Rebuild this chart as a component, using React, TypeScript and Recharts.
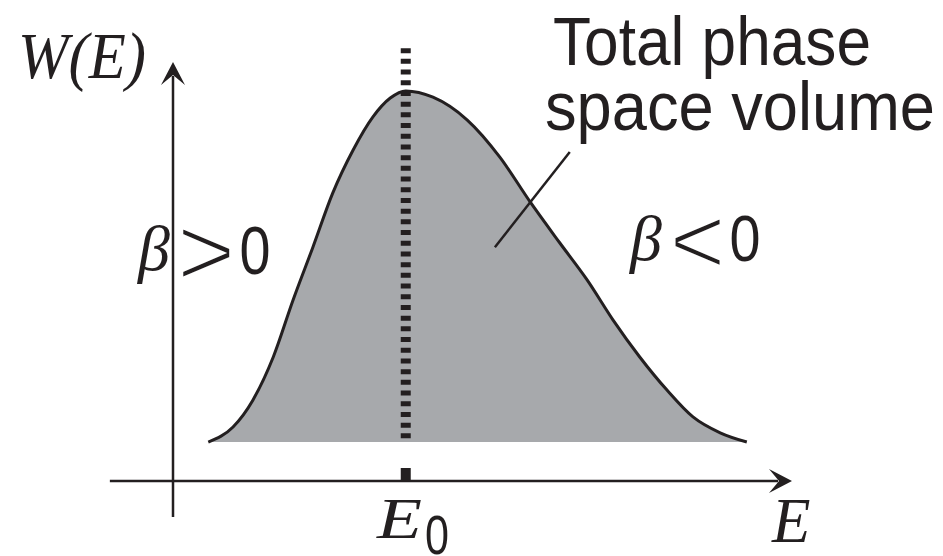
import { AreaChart, Area, XAxis, YAxis, ReferenceLine, Customized } from "recharts";

// energy axis (arbitrary units) and phase space volume W(E)
const energy = [0.57, 0.97, 1.29, 1.62, 1.94, 2.26, 2.58, 2.91, 3.23, 3.51, 3.76, 4.2, 4.75, 5.28, 5.77, 6.25, 6.69, 7.11, 7.54, 7.98, 8.4, 8.84, 9.27];
const volume = [0.93, 1.29, 1.93, 2.96, 4.32, 5.58, 6.87, 7.9, 8.69, 9.14, 9.31, 9.16, 8.62, 7.73, 6.66, 5.68, 4.8, 3.84, 2.96, 2.17, 1.53, 1.15, 0.93];

const E0 = 3.76;
const FLOOR = 0.93;

// axis arrows and guides, in data units
const xAxisFrom = -1.02;
const xAxisTo = 10;
const yAxisFrom = -0.86;
const yAxisTo = 10;
const peakGuideTop = 10.33;
const peakGuideBottom = 0.98;
const pointerFrom = { x: 6.41, y: 7.85 };
const pointerTo = { x: 5.2, y: 5.58 };

const data = energy.map((e, i) => ({ e, w: volume[i] }));

const INK = "#231f20";
const serif = "'Liberation Serif', 'Times New Roman', serif";
const sans = "'Liberation Sans', Arial, sans-serif";

function Arrow(props: any) {
  const { x1, y1, x2, y2 } = props;
  const ang = Math.atan2(y2 - y1, x2 - x1);
  const pt = (back: number, side: number) => {
    const px = x2 - back * Math.cos(ang) - side * Math.sin(ang);
    const py = y2 - back * Math.sin(ang) + side * Math.cos(ang);
    return `${px},${py}`;
  };
  return (
    <g>
      <line x1={x1} y1={y1} x2={x2 - 14 * Math.cos(ang)} y2={y2 - 14 * Math.sin(ang)} stroke={INK} strokeWidth={2.5} />
      <polygon points={`${x2},${y2} ${pt(23, -12)} ${pt(13, 0)} ${pt(23, 12)}`} fill={INK} />
    </g>
  );
}

// one glyph run squeezed or stretched to a given advance width;
// `thin` erodes the outline with a white stroke for the big relation signs
function T({ x, y, size, italic, font, len, thin, children }: any) {
  return (
    <text
      x={x}
      y={y}
      fontFamily={font}
      fontStyle={italic ? "italic" : "normal"}
      fontSize={size}
      textLength={len}
      lengthAdjust={len ? "spacingAndGlyphs" : undefined}
      stroke={thin ? "#fff" : undefined}
      strokeWidth={thin}
    >
      {children}
    </text>
  );
}

function Labels() {
  return (
    <g fill={INK}>
      <T x={18} y={78} size={66} italic font={serif} len={128}>W(E)</T>

      <T x={553} y={65} size={68} font={sans} len={318}>Total phase</T>
      <T x={545} y={130} size={68} font={sans} len={390}>space volume</T>

      <T x={138} y={270} size={64} italic font={serif}>β</T>
      <T x={177} y={286} size={100} font={sans} thin={2.6}>{">"}</T>
      <T x={239.5} y={274} size={69} font={sans} len={31}>0</T>

      <T x={630} y={260} size={64} italic font={serif}>β</T>
      <T x={669.5} y={274} size={96} font={sans} thin={2.6}>{"<"}</T>
      <T x={729.5} y={261} size={65} font={sans} len={31}>0</T>

      <T x={377} y={538} size={57} italic font={serif} len={45}>E</T>
      <T x={425} y={554} size={55} font={sans} len={24}>0</T>

      <T x={772} y={542} size={63} italic font={serif}>E</T>
    </g>
  );
}

export default function App() {
  return (
    <div style={{ position: "absolute", left: 0, top: 0, background: "#fff" }}>
      <AreaChart width={943} height={556} data={data} margin={{ top: 62, right: 151, bottom: 75, left: 173 }}>
        <XAxis type="number" dataKey="e" domain={[0, 10]} hide />
        <YAxis type="number" domain={[0, 10]} hide />

        <Area
          type="monotone"
          dataKey="w"
          baseValue={FLOOR}
          fill="#a7a9ac"
          fillOpacity={1}
          stroke={INK}
          strokeWidth={3}
          dot={false}
          activeDot={false}
          isAnimationActive={false}
        />

        {/* dashed guide at the maximum */}
        <ReferenceLine
          segment={[{ x: E0, y: peakGuideTop }, { x: E0, y: peakGuideBottom }]}
          stroke={INK}
          strokeWidth={10}
          strokeDasharray="5 5.7"
          ifOverflow="visible"
        />

        {/* axes with arrow heads */}
        <ReferenceLine segment={[{ x: xAxisFrom, y: 0 }, { x: xAxisTo, y: 0 }]} ifOverflow="visible" shape={Arrow} />
        <ReferenceLine segment={[{ x: 0, y: yAxisFrom }, { x: 0, y: yAxisTo }]} ifOverflow="visible" shape={Arrow} />

        {/* E0 tick */}
        <ReferenceLine segment={[{ x: E0, y: 0 }, { x: E0, y: 0.31 }]} stroke={INK} strokeWidth={10} ifOverflow="visible" />

        {/* pointer to the shaded region */}
        <ReferenceLine segment={[pointerFrom, pointerTo]} stroke={INK} strokeWidth={2.5} ifOverflow="visible" />

        <Customized component={Labels} />
      </AreaChart>
    </div>
  );
}
